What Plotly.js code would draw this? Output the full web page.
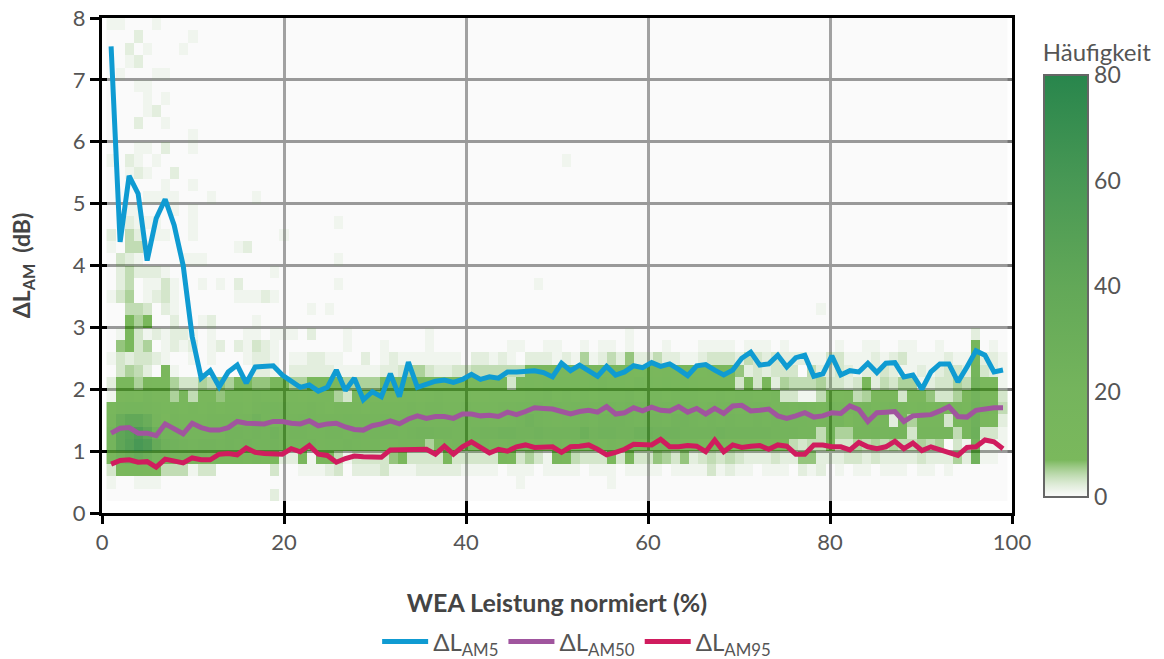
<!DOCTYPE html>
<html><head><meta charset="utf-8">
<script src="https://cdn.plot.ly/plotly-3.0.1.min.js"></script>
<style>html,body{margin:0;padding:0;background:#fff}#chart{width:1164px;height:659px}</style>
</head><body><div id="chart"></div>
<script>
// Power axis positions of the percentile curves
const powerPct = [1,1.99,2.98,3.97,4.96,5.95,6.94,7.93,8.92,9.91,10.9,11.89,12.88,13.87,14.86,15.85,16.84,17.83,18.82,19.81,
20.8,21.79,22.78,23.77,24.76,25.75,26.74,27.73,28.72,29.71,30.7,31.69,32.68,33.67,34.66,35.65,36.64,37.63,38.62,39.61,
40.6,41.59,42.58,43.57,44.56,45.55,46.54,47.53,48.52,49.51,50.5,51.49,52.48,53.47,54.46,55.45,56.44,57.43,58.42,59.41,
60.4,61.39,62.38,63.37,64.36,65.35,66.34,67.33,68.32,69.31,70.3,71.29,72.28,73.27,74.26,75.25,76.24,77.23,78.22,79.21,
80.2,81.19,82.18,83.17,84.16,85.15,86.14,87.13,88.12,89.11,90.1,91.09,92.08,93.07,94.06,95.05,96.04,97.03,98.02,99.01];

const am5 = [7.54,4.38,5.45,5.16,4.08,4.76,5.07,4.65,4.0,2.85,2.18,2.3,2.04,2.28,2.39,2.1,2.36,2.38,2.38,2.23,
2.14,2.03,2.07,1.97,2.03,2.31,1.98,2.18,1.83,1.96,1.88,2.25,1.88,2.44,2.03,2.09,2.13,2.15,2.11,2.16,
2.24,2.16,2.2,2.18,2.28,2.28,2.29,2.3,2.27,2.2,2.42,2.3,2.39,2.31,2.21,2.37,2.23,2.28,2.38,2.35,
2.43,2.37,2.41,2.32,2.22,2.38,2.4,2.31,2.23,2.31,2.5,2.6,2.39,2.41,2.55,2.36,2.51,2.55,2.21,2.25,
2.54,2.23,2.3,2.28,2.42,2.27,2.42,2.43,2.2,2.23,2.0,2.28,2.41,2.41,2.12,2.36,2.62,2.55,2.28,2.31];

const am50 = [1.29,1.37,1.38,1.29,1.29,1.25,1.44,1.36,1.28,1.45,1.38,1.34,1.34,1.38,1.48,1.45,1.45,1.44,1.48,1.48,
1.45,1.44,1.49,1.41,1.44,1.45,1.39,1.35,1.34,1.41,1.44,1.49,1.44,1.52,1.57,1.53,1.56,1.56,1.53,1.6,
1.6,1.57,1.58,1.56,1.63,1.59,1.64,1.7,1.69,1.68,1.64,1.6,1.64,1.66,1.63,1.72,1.6,1.62,1.7,1.65,
1.71,1.66,1.65,1.72,1.63,1.69,1.6,1.69,1.61,1.73,1.74,1.65,1.66,1.68,1.57,1.53,1.57,1.62,1.55,1.57,
1.62,1.61,1.73,1.67,1.48,1.62,1.63,1.64,1.48,1.57,1.58,1.59,1.65,1.72,1.56,1.55,1.66,1.69,1.7,1.7];

const am95 = [0.79,0.85,0.86,0.82,0.83,0.74,0.87,0.85,0.81,0.89,0.86,0.86,0.95,0.96,0.94,1.05,0.98,0.96,0.95,0.95,
1.04,0.99,1.09,0.95,0.93,0.82,0.88,0.92,0.91,0.91,0.9,1.02,1.02,1.04,1.04,1.03,0.95,1.08,0.95,1.07,
1.15,1.07,0.97,1.03,1.0,1.07,1.1,1.06,1.06,1.07,0.98,1.07,1.08,1.1,1.03,0.94,0.98,1.03,1.11,1.1,
1.1,1.19,1.07,1.07,1.09,1.08,0.99,1.18,0.99,1.1,1.06,1.08,1.09,1.03,1.1,1.08,0.95,0.95,1.1,1.1,
1.07,1.07,1.02,1.14,1.07,1.04,1.07,1.16,1.04,1.13,1.01,1.07,1.03,0.97,0.93,1.06,1.07,1.18,1.15,1.04];

const xTicks = [0,20,40,60,80,100];
const yTicks = [0,1,2,3,4,5,6,7,8];
const countTicks = [0,20,40,60,80];
const binCenters = [1,2,3,4,5,6,7,8,9,10,11,12,13,14,15,16,17,18,19,20,21,22,23,24,25,26,27,28,29,30,31,32,33,34,35,36,37,38,39,40,41,42,43,44,45,46,47,48,49,50,51,52,53,54,55,56,57,58,59,60,61,62,63,64,65,66,67,68,69,70,71,72,73,74,75,76,77,78,79,80,81,82,83,84,85,86,87,88,89,90,91,92,93,94,95,96,97,98,99];
const dbBins = [7.9,7.7,7.5,7.3,7.1,6.9,6.7,6.5,6.3,6.1,5.9,5.7,5.5,5.3,5.1,4.9,4.7,4.5,4.3,4.1,3.9,3.7,3.5,3.3,3.1,2.9,2.7,2.5,2.3,2.1,1.9,1.7,1.5,1.3,1.1,0.9,0.7,0.5,0.3];

// Counts per cell, one character per power bin (1..99), ten bins per block.
// 0-9 are literal counts; a=10, b=12, c=14 ... each further letter adds 2.
const countRows = [
"1100010000",
"0002000001",
"0020100010",
"0012000000",
"0100011000",
"0001100000",
"0000101000",
"0000120000",
"0002001000",
"0000000001",
"0001102001",
"1021010000 0000000000 0000000000 0000000000 0000000000 1000000000",
"0012100200",
"0000001001",
"0000111100 0100001000",
"0011000101",
"0021110001 0000000000 0000010000",
"2042011001 0000000001",
"1044100000 0000120000",
"0321000011 1000000000 0000010000",
"0242221000 0000000010",
"0240113100 1010200000 0000010000 0000000000 0000000100",
"1350123100 0000111210",
"0044302100 0000000000 0010100000 0000000000 0000000000 0000000000 0000000000 0000000010",
"0085700200 1200001000",
"0183121221 0100011011 1020001000 0000010000 0000000000 0000000100 0000000000 0000000000 0000000000 000002000",
"0673501212 0120213210 0000001000 1000010000 0000110011 0010110100 0100011110 1110100000 1001100110 01000c010",
"1323321001 0100012210 1122110020 1211111110 2212102221 2151242622 4221123332 4323222113 3111212311 11211c221",
"0354209100 0000002210 2222211111 2235532233 4444448999 9a9a99a98a 9a99889986 2323330422 3212232112 12332e321",
"2785977533 5465986699 5588775555 8899a98998 899a3ababb bbabcbbacb ababa99993 8392544453 3238243551 23354g871",
"19a7caa5a4 aa6bbacbba babbb53aba aabbabcbbb aabbbbccdb cbcbcccdbc cbcccbbcbc cbbc331149 8945999399 63359g993",
"bdeedcbcbc bcbccbdeed ccdcbcccbc cccdcddccd cccddeefde deedefefee deeedcdddc dedcdcdcbd cbcdbcdcbc bcbcbhcb4",
"clppldadcc cdddddhedd deedddeddd eddeedddee deddefhfed eefegggfef feggfefefe efefeeedcd d7cdcc2c5c cc3bci982",
"fqtwrjggee eeeggfgfhe ffeeffefef ffefggffee fgghhgghgg ggjghhggii hhhgggghgg gggfffee4e 55ddeded3d ddd4cj331",
"fquzwnihgf ggfgfgffge eefdeefede ccddd58cdd cdccdecdcd cdcdcdcdcd dcdccbaa99 a9aba43449 3354545445 45031g111",
"agjmjfeddc cbcccbcb72 2a1aa41333 3683333733 333a83531a 7433383933 6536234343 2223226622 2332322223 22252h110",
"39aa984441 3300000030 0111230222 3111222221 1110111011 1101110111 1011113121 1011102120 1011011101 101000000",
"1001110000 0000000000 0000000000 0000000000 0000010000 0000010000",
"0000000000 0000000020"
];

const decodeCell = c => { const v = parseInt(c, 36); return v < 10 ? v : 10 + (v - 10) * 2; };
const counts = countRows.map(r => r.replace(/ /g, '').padEnd(binCenters.length, '0').split('').map(decodeCell));

const ink = '#555555';
const font = 'Lato, "Open Sans", sans-serif';

const traces = [
  { type: 'heatmap', x: binCenters, y: dbBins, z: counts, zmin: 0, zmax: 80,
    colorscale: [
      [0, 'rgba(240,240,240,0.3)'],
      [0.0875, 'rgba(51,146,5,0.65)'],
      [0.25, 'rgba(42,140,5,0.65)'],
      [0.5, 'rgba(37,134,23,0.72)'],
      [0.75, 'rgba(26,126,42,0.8)'],
      [1, 'rgba(11,117,52,0.88)']
    ],
    showscale: true, showlegend: false, hoverinfo: 'skip',
    colorbar: { x: 1.035, xanchor: 'left', xpad: 0, ypad: 0, y: 0.032, yanchor: 'bottom',
      thickness: 44, thicknessmode: 'pixels', len: 456, lenmode: 'pixels',
      outlinecolor: '#666666', outlinewidth: 2, ticks: '', tickvals: countTicks,
      tickfont: { family: font, size: 23, color: ink },
      title: { text: 'Häufigkeit', side: 'top', font: { family: font, size: 24, color: ink } } } },
  { type: 'scatter', mode: 'lines', name: 'ΔL<sub>AM5</sub>', x: powerPct, y: am5, xaxis: 'x2', yaxis: 'y2',
    line: { color: '#0f9bd2', width: 5 } },
  { type: 'scatter', mode: 'lines', name: 'ΔL<sub>AM50</sub>', x: powerPct, y: am50, xaxis: 'x2', yaxis: 'y2',
    line: { color: '#a0559e', width: 5 } },
  { type: 'scatter', mode: 'lines', name: 'ΔL<sub>AM95</sub>', x: powerPct, y: am95, xaxis: 'x2', yaxis: 'y2',
    line: { color: '#d01c5e', width: 5 } }
];

const layout = {
  width: 1164, height: 659, paper_bgcolor: '#fff', plot_bgcolor: '#fff',
  margin: { l: 102, r: 152, t: 18, b: 146 },
  font: { family: font, color: ink },
  xaxis: { range: [0, 100], tickvals: xTicks, ticks: 'outside', ticklen: 8, tickwidth: 3, tickcolor: '#000',
    showline: true, linecolor: '#000', linewidth: 3, mirror: true, layer: 'above traces',
    showgrid: true, gridcolor: '#808080', gridwidth: 3, zeroline: false,
    ticklabelstandoff: 0, tickfont: { family: font, size: 22, color: ink },
    title: { text: '<b>WEA Leistung normiert (%)</b>', standoff: 41, font: { family: font, size: 25, color: '#444' } } },
  yaxis: { range: [0, 8], tickvals: yTicks, ticks: 'outside', ticklen: 9, tickwidth: 3, tickcolor: '#000',
    showline: true, linecolor: '#000', linewidth: 3, mirror: true, layer: 'above traces',
    showgrid: true, gridcolor: '#757575', gridwidth: 2.5, zeroline: false,
    tickfont: { family: font, size: 22, color: ink },
    title: { text: '<b>ΔL<sub>AM</sub>  (dB)</b>', standoff: 36, font: { family: font, size: 23, color: '#444' } } },
  xaxis2: { overlaying: 'x', anchor: 'y2', side: 'bottom', range: [0, 100], tickvals: xTicks, ticks: 'inside', ticklen: 12, tickwidth: 3,
    tickcolor: '#000', showticklabels: false, showgrid: false, zeroline: false, showline: false },
  yaxis2: { overlaying: 'y', anchor: 'x2', side: 'left', range: [0, 8], tickvals: yTicks, ticks: 'inside', ticklen: 5, tickwidth: 3,
    tickcolor: '#000', showticklabels: false, showgrid: false, zeroline: false, showline: false },
  showlegend: true,
  legend: { orientation: 'h', xref: 'container', yref: 'container', x: 0.324, xanchor: 'left', y: 0.06, yanchor: 'top', bgcolor: 'rgba(0,0,0,0)',
    itemwidth: 46, itemclick: false, font: { family: font, size: 24, color: ink } }
};

Plotly.newPlot('chart', traces, layout, { displayModeBar: false, responsive: false });
</script></body></html>
